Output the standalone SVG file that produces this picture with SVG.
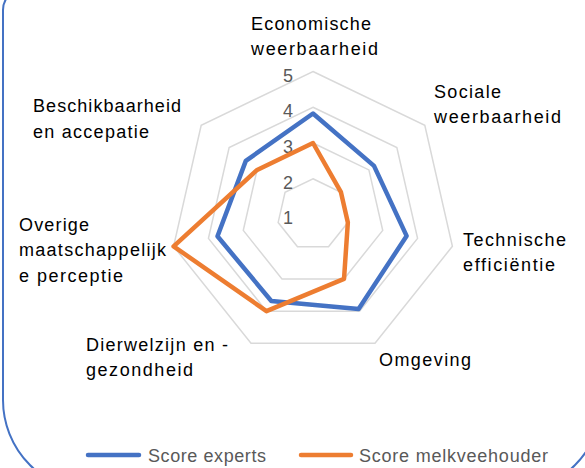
<svg xmlns="http://www.w3.org/2000/svg" width="585" height="468" viewBox="0 0 585 468">
<style>
.ring{fill:none;stroke:#D9D9D9;stroke-width:1.5}
.lbl{font-family:"Liberation Sans",Arial,sans-serif;font-size:18px;fill:#000}
.tick{font-family:"Liberation Sans",Arial,sans-serif;font-size:18px;fill:#595959}
.leg{font-family:"Liberation Sans",Arial,sans-serif;font-size:18px;fill:#595959}
.s1{fill:none;stroke:#4472C4;stroke-width:4.5;stroke-linejoin:round;stroke-linecap:round}
.s2{fill:none;stroke:#ED7D31;stroke-width:4.5;stroke-linejoin:round;stroke-linecap:round}
</style>
<rect width="585" height="468" fill="#fff"/>
<path id="frame" d="M24,-11 H581 A21 21 0 0 1 602,10 V400 A92 92 0 0 1 510,492 H95 A92 92 0 0 1 3,400 V10 A21 21 0 0 1 24,-11 Z" fill="none" stroke="#4472C4" stroke-width="2"/>
<g id="grid">
<polygon class="ring" points="313,71.5 424.8,125.3 452.4,246.3 375,343.3 251,343.3 173.6,246.3 201.2,125.3"/>
<polygon class="ring" points="313,107.25 396.85,147.63 417.56,238.36 359.54,311.13 266.46,311.13 208.44,238.36 229.15,147.63"/>
<polygon class="ring" points="313,143 368.9,169.92 382.71,230.41 344.02,278.92 281.98,278.92 243.29,230.41 257.1,169.92"/>
<polygon class="ring" points="313,178.75 340.95,192.21 347.85,222.45 328.51,246.71 297.49,246.71 278.15,222.45 285.05,192.21"/>
</g>
<g id="ticks">
<text class="tick" x="283" y="81.5">5</text>
<text class="tick" x="283" y="117">4</text>
<text class="tick" x="283" y="152.5">3</text>
<text class="tick" x="283" y="188.5">2</text>
<text class="tick" x="283" y="224">1</text>
</g>
<g id="connectors">
<polygon id="series-experts" class="s1" points="313,113.5 374,165.9 406.6,235.9 358.6,309.1 271.3,301 217.5,236.3 245.8,160.9"/>
<polygon id="series-melkveehouder" class="s2" points="313,143 340.95,192.21 347.85,222.45 344.02,278.92 266.46,311.13 173.6,246.3 257.1,169.92"/>
</g>
<g id="axis-economische">
<text class="lbl" x="251" y="29.5" textLength="120" lengthAdjust="spacing">Economische</text>
<text class="lbl" x="251" y="54.5" textLength="127" lengthAdjust="spacing">weerbaarheid</text>
</g>
<g id="axis-sociale">
<text class="lbl" x="434" y="97.5" textLength="67" lengthAdjust="spacing">Sociale</text>
<text class="lbl" x="434" y="123" textLength="127" lengthAdjust="spacing">weerbaarheid</text>
</g>
<g id="axis-technische">
<text class="lbl" x="463" y="245.5" textLength="103" lengthAdjust="spacing">Technische</text>
<text class="lbl" x="463" y="271" textLength="92" lengthAdjust="spacing">efficiëntie</text>
</g>
<g id="axis-omgeving">
<text class="lbl" x="379" y="365.5" textLength="92" lengthAdjust="spacing">Omgeving</text>
</g>
<g id="axis-dierwelzijn">
<text class="lbl" x="86" y="350.5" textLength="142" lengthAdjust="spacing">Dierwelzijn en -</text>
<text class="lbl" x="86" y="376" textLength="107" lengthAdjust="spacing">gezondheid</text>
</g>
<g id="axis-overige">
<text class="lbl" x="19" y="230.5" textLength="70" lengthAdjust="spacing">Overige</text>
<text class="lbl" x="19" y="256" textLength="147" lengthAdjust="spacing">maatschappelijk</text>
<text class="lbl" x="19" y="282" textLength="104" lengthAdjust="spacing">e perceptie</text>
</g>
<g id="axis-beschikbaarheid">
<text class="lbl" x="33" y="112" textLength="148" lengthAdjust="spacing">Beschikbaarheid</text>
<text class="lbl" x="33" y="137.5" textLength="116" lengthAdjust="spacing">en accepatie</text>
</g>
<g id="legend">
<line class="s1" x1="88" y1="455" x2="139" y2="455"/>
<text class="leg" x="148" y="462" textLength="118" lengthAdjust="spacing">Score experts</text>
<line class="s2" x1="301" y1="455" x2="351" y2="455"/>
<text class="leg" x="359" y="462" textLength="189" lengthAdjust="spacing">Score melkveehouder</text>
</g>
</svg>
